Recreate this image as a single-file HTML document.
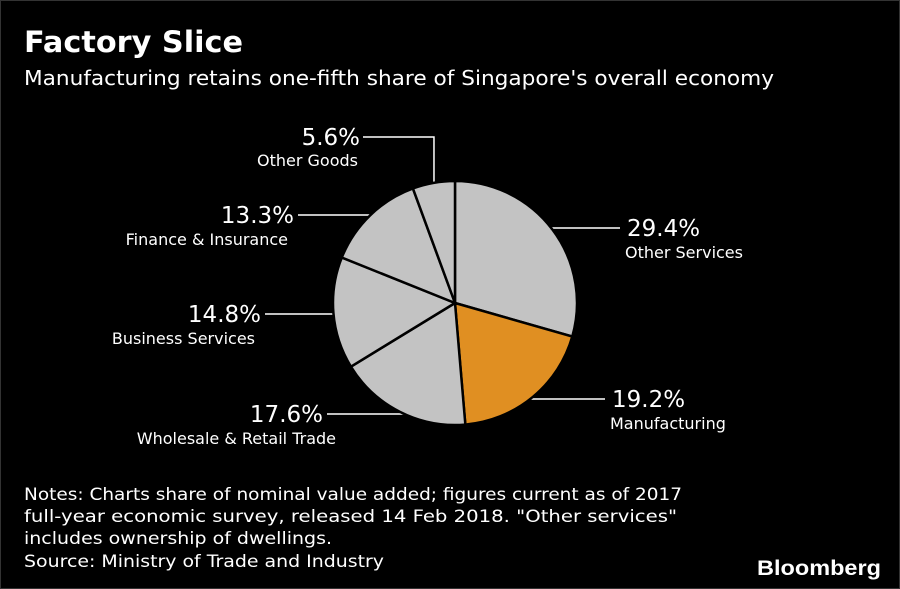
<!DOCTYPE html>
<html><head><meta charset="utf-8"><style>
html,body{margin:0;padding:0;background:#000;}
svg{display:block;font-family:"DejaVu Sans","Liberation Sans",sans-serif;}
</style></head><body>
<svg width="900" height="589" viewBox="0 0 900 589">
<rect x="0.5" y="0.5" width="899" height="588" fill="#000" stroke="#333"/>
<text x="24" y="52" font-size="29" font-weight="bold" fill="#fff" textLength="219" lengthAdjust="spacingAndGlyphs">Factory Slice</text>
<text x="24" y="85" font-size="20" fill="#fff" textLength="750" lengthAdjust="spacingAndGlyphs">Manufacturing retains one-fifth share of Singapore's overall economy</text>
<g id="labels"></g>
<g id="pie"></g>
<g font-size="17" fill="#fff">
<text x="24" y="500" textLength="658" lengthAdjust="spacingAndGlyphs">Notes: Charts share of nominal value added; figures current as of 2017</text>
<text x="24" y="522" textLength="653" lengthAdjust="spacingAndGlyphs">full-year economic survey, released 14 Feb 2018. "Other services"</text>
<text x="24" y="544" textLength="308" lengthAdjust="spacingAndGlyphs">includes ownership of dwellings.</text>
<text x="24" y="567" textLength="360" lengthAdjust="spacingAndGlyphs">Source: Ministry of Trade and Industry</text>
</g>
<text x="881" y="575" text-anchor="end" font-family="Liberation Sans, sans-serif" font-size="21" font-weight="bold" fill="#fff" textLength="124" lengthAdjust="spacingAndGlyphs">Bloomberg</text>
</svg>
<script>
const categories=["Other Services","Manufacturing","Wholesale & Retail Trade","Business Services","Finance & Insurance","Other Goods"];
const values=[29.4,19.2,17.6,14.8,13.3,5.6];
const valueLabels=["29.4%","19.2%","17.6%","14.8%","13.3%","5.6%"];
// label layout (positions only): leader y, leader end x, side
const layout=[
  {y:228,end:620,right:true},
  {y:399,end:605,right:true},
  {y:414,end:327,right:false},
  {y:314,end:265,right:false},
  {y:215,end:298,right:false},
  {y:137,end:363,right:false,vertical:true}
];
const cx=455,cy=303,r=122;
const NS="http://www.w3.org/2000/svg";
const total=values.reduce((a,b)=>a+b,0);
function pt(frac,rad){const a=frac*2*Math.PI;return [cx+rad*Math.sin(a),cy-rad*Math.cos(a)];}
const pie=document.getElementById('pie'),lab=document.getElementById('labels');
let acc=0;
const mids=[];
values.forEach((v,i)=>{
  const s=acc/total,e=(acc+v)/total;acc+=v;
  const p0=pt(s,r),p1=pt(e,r);
  const large=(e-s)>0.5?1:0;
  const path=document.createElementNS(NS,'path');
  path.setAttribute('d',`M${cx},${cy}L${p0[0]},${p0[1]}A${r},${r} 0 ${large} 1 ${p1[0]},${p1[1]}Z`);
  path.setAttribute('fill',i===1?'#e08f22':'#c3c3c3');
  path.setAttribute('stroke','#000');path.setAttribute('stroke-width','2.5');
  
  
  pie.appendChild(path);
  mids.push((s+e)/2);
});
function addText(x,y,t,size,anchor,name){
  const el=document.createElementNS(NS,'text');
  el.setAttribute('x',x);el.setAttribute('y',y);el.setAttribute('font-size',size);
  el.setAttribute('fill','#fff');el.setAttribute('text-anchor',anchor);el.textContent=t;
  
  
  lab.appendChild(el);
}
function addLine(pts,name){
  const el=document.createElementNS(NS,'polyline');
  el.setAttribute('points',pts.map(p=>p.join(',')).join(' '));
  el.setAttribute('fill','none');el.setAttribute('stroke','#fff');el.setAttribute('stroke-width','1.5');
  
  
  lab.appendChild(el);
}
mids.forEach((m,i)=>{
  const L=layout[i];
  const key=categories[i].toLowerCase().replace(/[^a-z]+/g,'-');
  if(L.vertical){
    const p=pt(m,r-2);
    addLine([[p[0],p[1]],[p[0],L.y],[L.end,L.y]],'leader-'+key);
    addText(L.end-3,L.y+8,valueLabels[i],23,'end','value-'+key);
    addText(L.end-5,L.y+29,categories[i],16,'end','label-'+key);
  } else {
    const dy=L.y-cy;
    const dx=Math.sqrt(Math.max(0,r*r-dy*dy))-3;
    const sx=L.right?cx+dx:cx-dx;
    addLine([[sx,L.y],[L.end,L.y]],'leader-'+key);
    if(L.right){
      addText(L.end+7,L.y+8,valueLabels[i],23,'start','value-'+key);
      addText(L.end+5,L.y+30,categories[i],16,'start','label-'+key);
    } else {
      addText(L.end-4,L.y+8,valueLabels[i],23,'end','value-'+key);
      addText(L.end+(i===2?9:-10),L.y+30,categories[i],16,'end','label-'+key);
    }
  }
});
</script>
</body></html>
